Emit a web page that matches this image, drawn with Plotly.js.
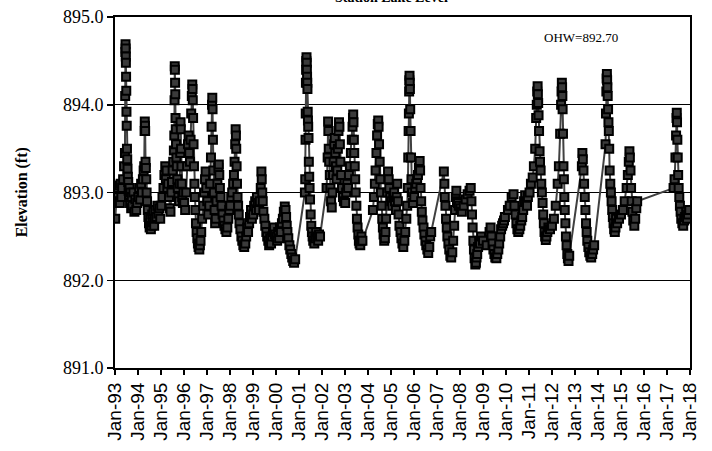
<!DOCTYPE html>
<html>
<head>
<meta charset="utf-8">
<script src="https://cdn.plot.ly/plotly-3.0.1.min.js"></script>
<style>
  html, body { margin: 0; padding: 0; background: #fff; }
  #chart { width: 712px; height: 451px; }
</style>
</head>
<body>
<div id="chart"></div>
<script>
// Lake elevation readings (ft), grouped in five-year blocks
const datesA = [
  "1993-01-05","1993-01-20","1993-02-05","1993-02-20","1993-03-05","1993-03-20","1993-04-01","1993-04-12","1993-04-25","1993-05-10","1993-05-25","1993-06-08","1993-06-12","1993-06-15","1993-06-17","1993-06-19","1993-06-21","1993-06-23","1993-06-26","1993-06-29","1993-07-02","1993-07-06","1993-07-10","1993-07-14","1993-07-19","1993-07-24","1993-07-30","1993-08-05","1993-08-12","1993-08-20","1993-08-28","1993-09-05","1993-09-15","1993-09-25","1993-10-05","1993-10-20","1993-11-05","1993-11-20","1993-12-05","1993-12-20",
  "1994-01-05","1994-01-20","1994-02-05","1994-02-20","1994-03-05","1994-03-20","1994-04-01","1994-04-10","1994-04-16","1994-04-19","1994-04-22","1994-04-25","1994-05-01","1994-05-06","1994-05-12","1994-05-18","1994-05-25","1994-06-05","1994-06-15","1994-06-25","1994-07-05","1994-07-15","1994-07-25","1994-08-05","1994-08-15","1994-08-25","1994-09-05","1994-09-15","1994-09-25","1994-10-05","1994-10-20","1994-11-05","1994-11-20","1994-12-05","1994-12-20",
  "1995-01-05","1995-01-25","1995-02-10","1995-02-25","1995-03-10","1995-03-20","1995-04-01","1995-04-12","1995-04-25","1995-05-08","1995-05-20","1995-06-01","1995-06-15","1995-06-25","1995-07-05","1995-07-15","1995-07-25","1995-08-01","1995-08-05","1995-08-08","1995-08-10","1995-08-13","1995-08-16","1995-08-20","1995-08-24","1995-08-28","1995-09-03","1995-09-10","1995-09-18","1995-09-25","1995-10-05","1995-10-15","1995-10-25","1995-11-03","1995-11-08","1995-11-12","1995-11-16","1995-11-22","1995-11-28","1995-12-05","1995-12-15","1995-12-25",
  "1996-01-05","1996-01-20","1996-02-05","1996-02-20","1996-03-05","1996-03-15","1996-03-25","1996-04-05","1996-04-15","1996-04-25","1996-05-05","1996-05-12","1996-05-16","1996-05-20","1996-05-25","1996-06-01","1996-06-08","1996-06-15","1996-06-22","1996-07-01","1996-07-10","1996-07-20","1996-08-01","1996-08-10","1996-08-20","1996-09-01","1996-09-10","1996-09-20","1996-10-01","1996-10-15","1996-11-01","1996-11-15","1996-12-01","1996-12-10","1996-12-20",
  "1997-01-05","1997-01-20","1997-02-05","1997-02-20","1997-03-05","1997-03-15","1997-03-22","1997-03-26","1997-03-30","1997-04-05","1997-04-12","1997-04-20","1997-05-01","1997-05-10","1997-05-20","1997-06-01","1997-06-15","1997-07-01","1997-07-08","1997-07-15","1997-07-25","1997-08-05","1997-08-20","1997-09-05","1997-09-20","1997-10-05","1997-10-20","1997-11-05","1997-11-20","1997-12-05","1997-12-20"
];
const elevA = [
  892.70,892.95,893.05,892.90,893.08,892.88,893.10,892.95,893.05,893.15,893.30,893.45,894.10,894.60,894.69,894.64,894.55,894.48,894.32,894.16,893.92,893.76,893.50,893.38,893.27,893.18,893.12,893.02,892.95,893.05,892.88,893.00,892.82,892.95,892.85,893.00,892.78,892.92,892.80,892.88,
  892.95,893.05,892.92,893.10,893.00,893.15,893.25,893.30,893.70,893.81,893.76,893.70,893.35,893.28,893.15,893.00,892.90,892.80,892.72,892.65,892.60,892.70,892.58,892.62,892.75,892.66,892.78,892.62,892.70,892.80,892.72,892.85,892.76,892.82,892.70,
  892.85,892.95,893.05,893.20,893.30,893.15,893.25,893.05,893.10,892.95,892.82,892.78,893.00,893.12,893.25,893.35,893.48,893.65,894.05,894.44,894.40,894.25,894.12,893.85,893.72,893.55,893.40,893.30,893.15,893.05,892.95,892.90,893.10,893.45,893.80,893.72,893.50,893.30,893.10,892.95,892.88,893.00,
  892.88,892.80,893.00,893.30,893.55,893.65,893.45,893.35,893.60,893.90,894.10,894.23,894.18,894.05,893.85,893.55,893.30,893.10,892.95,892.80,892.65,892.55,892.48,892.42,892.38,892.35,892.40,892.45,892.55,892.70,892.85,893.00,893.15,893.24,893.05,
  892.90,892.75,892.85,893.10,893.40,893.75,894.00,894.08,893.95,893.60,893.25,893.00,892.80,892.65,892.70,892.90,893.10,893.28,893.32,893.20,893.05,892.95,892.85,892.75,892.68,892.62,892.58,892.55,892.60,892.70,892.80
];

const datesB = [
  "1998-01-05","1998-01-20","1998-02-05","1998-02-20","1998-03-05","1998-03-15","1998-03-25","1998-04-01","1998-04-05","1998-04-10","1998-04-16","1998-04-22","1998-05-01","1998-05-10","1998-05-20","1998-06-01","1998-06-15","1998-07-01","1998-07-15","1998-08-01","1998-08-15","1998-09-01","1998-09-15","1998-10-01","1998-10-15","1998-11-01","1998-11-15","1998-12-01","1998-12-15",
  "1999-01-05","1999-01-20","1999-02-05","1999-02-20","1999-03-05","1999-03-20","1999-04-05","1999-04-20","1999-05-05","1999-05-15","1999-05-20","1999-05-28","1999-06-05","1999-06-15","1999-07-01","1999-07-15","1999-08-01","1999-08-15","1999-09-01","1999-09-15","1999-10-01","1999-10-15","1999-11-01","1999-11-15","1999-12-01","1999-12-15",
  "2000-01-05","2000-01-20","2000-02-05","2000-02-20","2000-03-05","2000-03-20","2000-04-05","2000-04-20","2000-05-05","2000-05-20","2000-06-01","2000-06-10","2000-06-20","2000-07-01","2000-07-15","2000-08-01","2000-08-15","2000-09-01","2000-09-15","2000-10-01","2000-10-15","2000-11-01",
  "2001-04-05","2001-04-10","2001-04-15","2001-04-18","2001-04-21","2001-04-24","2001-04-27","2001-04-30","2001-05-03","2001-05-06","2001-05-09","2001-05-12","2001-05-15","2001-05-19","2001-05-23","2001-05-27","2001-06-01","2001-06-06","2001-06-12","2001-06-18","2001-06-25","2001-07-05","2001-07-15","2001-07-25","2001-08-05","2001-08-15","2001-09-01","2001-09-15","2001-10-01","2001-10-15","2001-11-01","2001-11-15","2001-12-01",
  "2002-03-15","2002-04-01","2002-04-08","2002-04-12","2002-04-18","2002-04-25","2002-05-05","2002-05-15","2002-05-25","2002-06-05","2002-06-15","2002-06-25","2002-07-05","2002-07-15","2002-07-22","2002-08-01","2002-08-10","2002-08-20","2002-09-01","2002-09-10","2002-09-20","2002-09-28","2002-10-05","2002-10-12","2002-10-20","2002-11-01","2002-11-15","2002-12-01","2002-12-15"
];
const elevB = [
  892.85,892.95,893.00,893.10,893.20,893.35,893.55,893.72,893.65,893.50,893.30,893.10,892.95,892.85,892.75,892.65,892.58,892.50,892.45,892.40,892.38,892.42,892.50,892.60,892.55,892.65,892.72,892.80,892.70,
  892.75,892.85,892.90,892.80,892.95,892.88,892.80,892.90,893.05,893.24,893.15,893.00,892.90,892.78,892.70,892.62,892.55,892.50,892.45,892.40,892.48,892.42,892.50,892.55,892.60,892.52,
  892.50,892.45,892.55,892.48,892.60,892.55,892.65,892.70,892.78,892.84,892.80,892.72,892.62,892.55,892.48,892.40,892.35,892.30,892.26,892.22,892.20,892.24,
  893.00,893.15,893.60,893.90,894.25,894.40,894.50,894.54,894.48,894.40,894.32,894.25,894.18,893.92,893.82,893.75,893.62,893.35,893.18,893.05,892.92,892.75,892.62,892.55,892.50,892.45,892.42,892.48,892.55,892.50,892.45,892.52,892.50,
  893.05,893.40,893.81,893.70,893.50,893.35,893.20,893.05,892.90,892.83,893.00,893.20,893.35,893.55,893.62,893.45,893.30,893.15,893.25,893.50,893.70,893.80,893.75,893.55,893.35,893.20,893.05,892.95,892.90
];

const datesC = [
  "2003-01-05","2003-01-20","2003-02-05","2003-02-20","2003-03-05","2003-03-20","2003-04-05","2003-04-20","2003-05-01","2003-05-08","2003-05-12","2003-05-16","2003-05-22","2003-05-28","2003-06-05","2003-06-12","2003-06-20","2003-07-01","2003-07-10","2003-07-20","2003-08-01","2003-08-10","2003-08-20","2003-09-01","2003-09-10","2003-09-20","2003-10-05",
  "2004-03-20","2004-04-05","2004-04-20","2004-05-01","2004-05-15","2004-05-25","2004-06-05","2004-06-12","2004-06-18","2004-06-25","2004-07-05","2004-07-15","2004-07-25","2004-08-05","2004-08-15","2004-08-25","2004-09-05","2004-09-15","2004-09-25","2004-10-05","2004-10-15","2004-11-01","2004-11-15","2004-11-25","2004-12-05","2004-12-20",
  "2005-01-05","2005-01-20","2005-02-05","2005-02-20","2005-03-05","2005-03-20","2005-04-01","2005-04-10","2005-04-20","2005-05-01","2005-05-15","2005-06-01","2005-06-15","2005-07-01","2005-07-15","2005-08-01","2005-08-15","2005-09-01","2005-09-15","2005-09-25","2005-10-02","2005-10-08","2005-10-12","2005-10-16","2005-10-19","2005-10-22","2005-10-25","2005-10-28","2005-11-02","2005-11-08","2005-11-15","2005-11-22","2005-12-01","2005-12-15",
  "2006-01-05","2006-01-20","2006-02-05","2006-02-20","2006-03-05","2006-03-20","2006-04-01","2006-04-08","2006-04-15","2006-04-25","2006-05-05","2006-05-15","2006-06-01","2006-06-15","2006-07-01","2006-07-15","2006-08-01","2006-08-15","2006-09-01","2006-09-15","2006-10-01",
  "2007-04-20","2007-04-28","2007-05-05","2007-05-15","2007-05-25","2007-06-05","2007-06-15","2007-07-01","2007-07-15","2007-08-01","2007-08-15","2007-09-01","2007-09-15","2007-10-01","2007-10-15","2007-10-25","2007-11-05","2007-11-15","2007-12-01","2007-12-15"
];
const elevC = [
  892.88,893.00,893.10,893.05,893.20,893.30,893.45,893.60,893.75,893.85,893.89,893.80,893.60,893.45,893.30,893.15,893.00,892.85,892.70,892.60,892.52,892.45,892.42,892.40,892.45,892.50,892.45,
  892.80,892.95,893.10,893.25,893.45,893.65,893.78,893.82,893.75,893.55,893.35,893.15,893.00,892.85,892.70,892.60,892.52,892.45,892.48,892.55,892.70,893.00,893.24,893.15,893.05,892.95,
  892.90,892.85,892.95,893.00,892.90,892.80,892.95,893.10,892.90,892.75,892.62,892.55,892.48,892.42,892.38,892.45,892.55,892.70,892.85,893.05,893.40,893.70,893.90,894.15,894.28,894.33,894.25,894.18,893.95,893.70,893.40,893.15,893.00,892.88,
  892.95,893.05,893.10,893.15,893.20,893.28,893.36,893.25,893.05,892.90,892.78,892.68,892.60,892.52,892.45,892.40,892.35,892.31,892.38,892.50,892.55,
  893.24,893.10,892.95,892.85,892.70,892.60,892.50,892.42,892.35,892.28,892.26,892.32,892.45,892.62,892.80,892.95,893.02,892.90,892.88,892.85
];

const datesD = [
  "2008-01-10","2008-02-01","2008-03-01","2008-04-01","2008-05-01","2008-06-01","2008-06-20","2008-07-01","2008-07-10","2008-07-20","2008-08-01","2008-08-10","2008-08-20","2008-09-01","2008-09-10","2008-09-20","2008-10-01","2008-10-15","2008-11-01","2008-11-15","2008-12-01",
  "2009-01-01","2009-03-01","2009-04-15","2009-05-01","2009-05-15","2009-06-01","2009-06-15","2009-07-01","2009-07-15","2009-08-01","2009-08-15","2009-09-01","2009-09-15","2009-10-01","2009-10-15","2009-11-01","2009-11-15","2009-12-01","2009-12-15",
  "2010-02-01","2010-03-01","2010-04-01","2010-05-01","2010-05-15","2010-06-01","2010-06-15","2010-07-01","2010-07-15","2010-08-01","2010-08-15","2010-09-01","2010-09-15","2010-10-01","2010-10-15","2010-11-01","2010-11-15","2010-12-01","2010-12-15",
  "2011-01-10","2011-02-01","2011-03-01","2011-03-20","2011-04-10","2011-04-25","2011-05-05","2011-05-12","2011-05-18","2011-05-22","2011-05-27","2011-06-02","2011-06-10","2011-06-18","2011-06-25","2011-07-05","2011-07-15","2011-07-25","2011-08-05","2011-08-15","2011-08-25","2011-09-05","2011-09-15","2011-09-25","2011-10-05","2011-10-20","2011-11-05","2011-12-01",
  "2012-01-01","2012-02-01","2012-03-01","2012-04-01","2012-04-20","2012-05-10","2012-05-25","2012-06-01","2012-06-06","2012-06-10","2012-06-14","2012-06-18","2012-06-24","2012-07-01","2012-07-08","2012-07-15","2012-07-22","2012-08-01","2012-08-10","2012-08-20","2012-09-01","2012-09-10","2012-09-20","2012-10-01"
];
const elevD = [
  892.82,892.78,892.85,892.92,892.98,893.02,893.05,892.90,892.75,892.60,892.45,892.35,892.25,892.18,892.20,892.26,892.30,892.38,892.45,892.42,892.50,
  892.45,892.40,892.55,892.60,892.50,892.42,892.35,892.30,892.26,892.25,892.30,892.35,892.42,892.50,892.58,892.62,892.65,892.68,892.72,
  892.80,892.85,892.95,892.98,892.85,892.75,892.65,892.58,892.55,892.58,892.62,892.68,892.72,892.80,892.90,892.97,892.90,892.85,892.95,
  893.00,893.10,893.17,893.30,893.50,893.85,894.00,894.15,894.21,894.12,894.02,893.88,893.70,893.47,893.35,893.25,893.10,893.00,892.88,892.75,892.65,892.55,892.50,892.46,892.50,892.55,892.60,892.58,
  892.62,892.70,892.85,893.10,893.30,893.67,894.00,894.15,894.25,894.20,894.10,893.95,893.67,893.30,893.15,892.95,892.80,892.65,892.50,892.40,892.30,892.25,892.22,892.28
];

const datesE = [
  "2013-04-20","2013-04-28","2013-05-05","2013-05-15","2013-05-25","2013-06-05","2013-06-15","2013-06-25","2013-07-05","2013-07-15","2013-08-01","2013-08-15","2013-09-01","2013-09-15","2013-10-01","2013-10-15","2013-11-01",
  "2014-05-01","2014-05-08","2014-05-14","2014-05-18","2014-05-22","2014-05-26","2014-05-30","2014-06-04","2014-06-10","2014-06-16","2014-06-22","2014-06-28","2014-07-05","2014-07-15","2014-07-25","2014-08-05","2014-08-15","2014-08-25","2014-09-05","2014-09-15","2014-09-25","2014-10-05","2014-10-15","2014-11-01","2014-12-01",
  "2015-01-01","2015-02-01","2015-03-01","2015-04-01","2015-04-20","2015-05-05","2015-05-15","2015-05-22","2015-06-01","2015-06-10","2015-06-20","2015-07-01","2015-07-15","2015-08-01","2015-08-15","2015-09-01","2015-09-15",
  "2017-04-15","2017-05-01","2017-05-15","2017-05-25","2017-06-01","2017-06-05","2017-06-09","2017-06-14","2017-06-20","2017-06-27","2017-07-05","2017-07-15","2017-07-25","2017-08-05","2017-08-15","2017-09-01","2017-09-15","2017-10-01","2017-10-15","2017-11-01","2017-11-15","2017-12-01","2017-12-20"
];
const elevE = [
  893.30,893.45,893.38,893.25,893.10,892.95,892.80,892.65,892.55,892.45,892.38,892.32,892.28,892.26,892.30,892.35,892.40,
  893.55,893.90,894.15,894.30,894.35,894.28,894.20,894.10,893.95,893.80,893.70,893.50,893.25,893.10,893.00,892.90,892.80,892.72,892.65,892.58,892.55,892.60,892.70,892.65,892.70,
  892.75,892.80,892.90,893.05,893.20,893.35,893.47,893.40,893.25,893.05,892.90,892.78,892.68,892.62,892.70,892.82,892.90,
  893.05,893.15,893.40,893.65,893.85,893.91,893.80,893.60,893.40,893.20,893.05,892.95,892.85,892.78,892.70,892.65,892.62,892.68,892.72,892.78,892.70,892.75,892.80
];

const chartTitle = "Station Lake Level";
const yAxisTitle = "Elevation (ft)";
const ohwLabel = "OHW=892.70";

const allDates = [].concat(datesA, datesB, datesC, datesD, datesE);
const allElev = [].concat(elevA, elevB, elevC, elevD, elevE);

const trace = {
  type: "scatter",
  mode: "lines+markers",
  x: allDates,
  y: allElev,
  line: { color: "#404040", width: 2 },
  marker: { symbol: "square", size: 8, color: "#3a3a3a", line: { color: "#000000", width: 2 } },
  hoverinfo: "x+y"
};

const layout = {
  width: 712,
  height: 451,
  margin: { l: 115, r: 22, t: 17, b: 83 },
  paper_bgcolor: "#ffffff",
  plot_bgcolor: "#ffffff",
  showlegend: false,
  xaxis: {
    type: "date",
    range: ["1993-01-01", "2018-01-01"],
    tick0: "1993-01-01",
    dtick: "M12",
    tickformat: "%b-%y",
    tickangle: -90,
    ticks: "outside",
    ticklen: 5,
    tickwidth: 1.5,
    tickcolor: "#000",
    showgrid: false,
    zeroline: false,
    showline: true,
    mirror: true,
    linecolor: "#000",
    linewidth: 2,
    tickfont: { family: "Liberation Sans, Arial, sans-serif", size: 19, color: "#000" }
  },
  yaxis: {
    range: [891, 895],
    tick0: 891,
    dtick: 1,
    tickformat: ".1f",
    ticks: "outside",
    ticklen: 6,
    tickwidth: 1.5,
    tickcolor: "#000",
    showgrid: true,
    gridcolor: "#000",
    gridwidth: 1,
    zeroline: false,
    showline: true,
    mirror: true,
    linecolor: "#000",
    linewidth: 2,
    tickfont: { family: "Liberation Serif, Times New Roman, serif", size: 18, color: "#000" }
  },
  annotations: [
    {
      text: "<b>" + chartTitle + "</b>",
      xref: "paper", yref: "paper",
      x: 0.48, y: 1.055,
      xanchor: "center", yanchor: "middle",
      showarrow: false,
      font: { family: "Liberation Serif, Times New Roman, serif", size: 14, color: "#000" }
    },
    {
      text: "<b>" + yAxisTitle + "</b>",
      xref: "paper", yref: "paper",
      x: -0.162, y: 0.5,
      xanchor: "center", yanchor: "middle",
      textangle: -90,
      showarrow: false,
      font: { family: "Liberation Serif, Times New Roman, serif", size: 16, color: "#000" }
    },
    {
      text: ohwLabel,
      xref: "paper", yref: "paper",
      x: 0.81, y: 0.943,
      xanchor: "center", yanchor: "middle",
      showarrow: false,
      font: { family: "Liberation Serif, Times New Roman, serif", size: 13, color: "#000" }
    }
  ]
};

Plotly.newPlot("chart", [trace], layout, { staticPlot: true, displayModeBar: false });
</script>
</body>
</html>
